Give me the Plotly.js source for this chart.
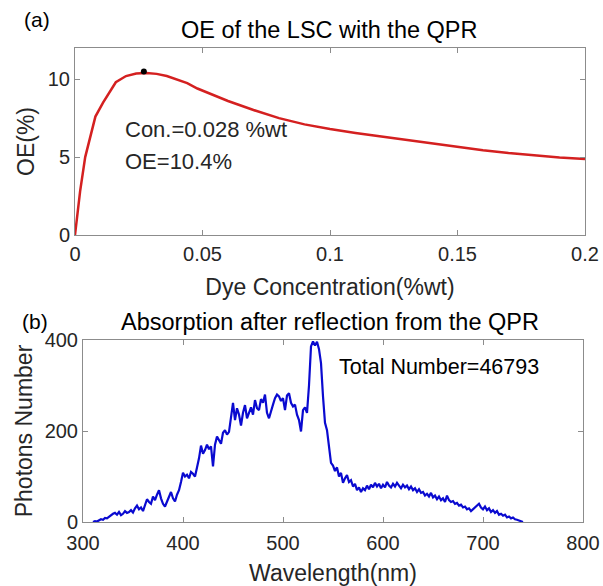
<!DOCTYPE html>
<html>
<head>
<meta charset="utf-8">
<script src="https://cdn.plot.ly/plotly-3.0.1.min.js"></script>
<style>html,body{margin:0;padding:0;background:#fff;}#chart{width:603px;height:586px;}</style>
</head>
<body>
<div id="chart"></div>
<script>
// (a) OE vs dye concentration
var concentration = [0, 0.002, 0.004, 0.006, 0.008, 0.011, 0.014, 0.016, 0.02, 0.024, 0.028, 0.032, 0.036, 0.04, 0.044, 0.048, 0.055, 0.06, 0.07, 0.08, 0.09, 0.1, 0.11, 0.12, 0.13, 0.14, 0.15, 0.16, 0.17, 0.18, 0.19, 0.2];
var oe = [0, 2.8, 5.0, 6.4, 7.6, 8.5, 9.3, 9.8, 10.2, 10.36, 10.4, 10.34, 10.2, 10.0, 9.75, 9.4, 8.95, 8.6, 8.02, 7.5, 7.1, 6.8, 6.55, 6.32, 6.12, 5.88, 5.64, 5.44, 5.26, 5.1, 4.98, 4.88];
var optimumConc = [0.027];
var optimumOE = [10.5];

// (b) Absorbed photons vs wavelength
var wavelength = [310,312,314,316,318,320,322,324,326,328,330,332,334,336,338,340,342,344,346,348,350,352,354,356,358,360,362,364,366,368,370,372,374,376,378,380,382,384,386,388,390,392,394,396,398,400,402,404,406,408,410,412,414,416,418,420,422,424,426,428,430,432,434,436,438,440,442,444,446,448,450,452,454,456,458,460,462,464,466,468,470,472,474,476,478,480,482,484,486,488,490,492,494,496,498,500,502,504,506,508,510,512,514,516,518,520,522,524,526,528,530,532,534,536,538,540,542,544,546,548,550,552,554,556,558,560,562,564,566,568,570,572,574,576,578,580,582,584,586,588,590,592,594,596,598,600,602,604,606,608,610,612,614,616,618,620,622,624,626,628,630,632,634,636,638,640,642,644,646,648,650,652,654,656,658,660,662,664,666,668,670,672,674,676,678,680,682,684,686,688,690,692,694,696,698,700,702,704,706,708,710,712,714,716,718,720,722,724,726,728,730,732,734,736,738,740];
var photons = [0,2,1,4,6,5,9,8,12,14,18,20,16,22,15,18,24,20,22,26,21,30,36,28,32,24,38,50,44,40,56,48,60,70,52,40,34,46,58,66,52,45,60,70,88,108,100,104,96,110,106,100,120,140,168,150,158,170,160,166,122,170,188,178,172,196,202,192,198,230,262,224,250,236,212,240,257,228,240,252,236,268,250,246,270,262,280,240,228,245,258,272,280,276,266,272,246,278,283,262,254,258,236,224,199,246,252,240,300,386,397,388,396,380,349,276,218,202,160,130,124,112,120,100,108,86,96,103,88,92,78,84,70,76,66,74,70,80,72,82,76,86,78,84,74,82,76,88,80,76,84,78,86,80,74,82,76,80,72,78,70,74,66,72,64,66,58,62,56,64,54,58,50,56,48,52,44,58,48,44,46,40,42,36,38,32,34,28,30,24,28,32,36,40,32,28,34,26,30,22,26,20,24,16,18,14,16,10,12,8,10,6,5,3,2,0];

var FONT = 'Liberation Sans, Arial, sans-serif';
var TXT = '#262626';
var AX = '#8c8c8c';

function axisBase(extra) {
  var a = {
    showline: true, linecolor: AX, linewidth: 1, mirror: 'ticks',
    ticks: 'inside', ticklen: 5, tickcolor: AX, tickwidth: 1,
    showgrid: false, zeroline: false,
    tickfont: {family: FONT, size: 20, color: TXT}
  };
  for (var k in extra) a[k] = extra[k];
  return a;
}

var traces = [
  {x: concentration, y: oe, type: 'scatter', mode: 'lines', line: {color: '#d42020', width: 2.5}, xaxis: 'x', yaxis: 'y', hoverinfo: 'skip'},
  {x: optimumConc, y: optimumOE, type: 'scatter', mode: 'markers', marker: {color: '#000', size: 6}, xaxis: 'x', yaxis: 'y'},
  {x: wavelength, y: photons, type: 'scatter', mode: 'lines', line: {color: '#0a0ad0', width: 2.2}, xaxis: 'x2', yaxis: 'y2'}
];

var layout = {
  width: 603, height: 586,
  margin: {l: 0, r: 0, t: 0, b: 0},
  paper_bgcolor: '#fff', plot_bgcolor: '#fff',
  showlegend: false,
  font: {family: FONT, color: TXT},
  xaxis: axisBase({domain: [75/603, 585/603], range: [0, 0.2], tickvals: [0, 0.05, 0.1, 0.15, 0.2], ticktext: ['0', '0.05', '0.1', '0.15', '0.2'], anchor: 'y', ticklabelstandoff: 1,
    title: {text: 'Dye Concentration(%wt)', font: {family: FONT, size: 23, color: TXT}, standoff: 14}}),
  yaxis: axisBase({domain: [1 - 235/586, 1 - 48/586], range: [0, 12], tickvals: [0, 5, 10], anchor: 'x',
    title: {text: 'OE(%)', font: {family: FONT, size: 23, color: TXT}, standoff: 6}}),
  xaxis2: axisBase({domain: [83/603, 583/603], range: [300, 800], tickvals: [300, 400, 500, 600, 700, 800], anchor: 'y2', ticklabelstandoff: 3,
    title: {text: 'Wavelength(nm)', font: {family: FONT, size: 23, color: TXT}, standoff: 15}}),
  yaxis2: axisBase({domain: [1 - 522/586, 1 - 340/586], range: [0, 400], tickvals: [0, 200, 400], anchor: 'x2',
    title: {text: 'Photons Number', font: {family: FONT, size: 23, color: TXT}, standoff: 5}}),
  annotations: [
    {text: '(a)', xref: 'paper', yref: 'paper', x: 22/603, y: 1 - 19/586, xanchor: 'left', yanchor: 'middle', showarrow: false, font: {family: FONT, size: 21, color: '#000'}},
    {text: 'OE of the LSC with the QPR', xref: 'paper', yref: 'paper', x: 330/603, y: 1 - 30/586, xanchor: 'center', yanchor: 'middle', showarrow: false, font: {family: FONT, size: 23.5, color: '#000'}},
    {text: 'Con.=0.028 %wt', xref: 'paper', yref: 'paper', x: 123/603, y: 1 - 130/586, xanchor: 'left', yanchor: 'middle', showarrow: false, font: {family: FONT, size: 22, color: TXT}},
    {text: 'OE=10.4%', xref: 'paper', yref: 'paper', x: 123/603, y: 1 - 161/586, xanchor: 'left', yanchor: 'middle', showarrow: false, font: {family: FONT, size: 22, color: TXT}},
    {text: '(b)', xref: 'paper', yref: 'paper', x: 20/603, y: 1 - 321/586, xanchor: 'left', yanchor: 'middle', showarrow: false, font: {family: FONT, size: 21, color: '#000'}},
    {text: 'Absorption after reflection from the QPR', xref: 'paper', yref: 'paper', x: 330/603, y: 1 - 322/586, xanchor: 'center', yanchor: 'middle', showarrow: false, font: {family: FONT, size: 23.5, color: '#000'}},
    {text: 'Total Number=46793', xref: 'paper', yref: 'paper', x: 337/603, y: 1 - 367/586, xanchor: 'left', yanchor: 'middle', showarrow: false, font: {family: FONT, size: 21.5, color: '#000'}}
  ]
};

Plotly.newPlot('chart', traces, layout, {staticPlot: true, displayModeBar: false});
</script>
</body>
</html>
